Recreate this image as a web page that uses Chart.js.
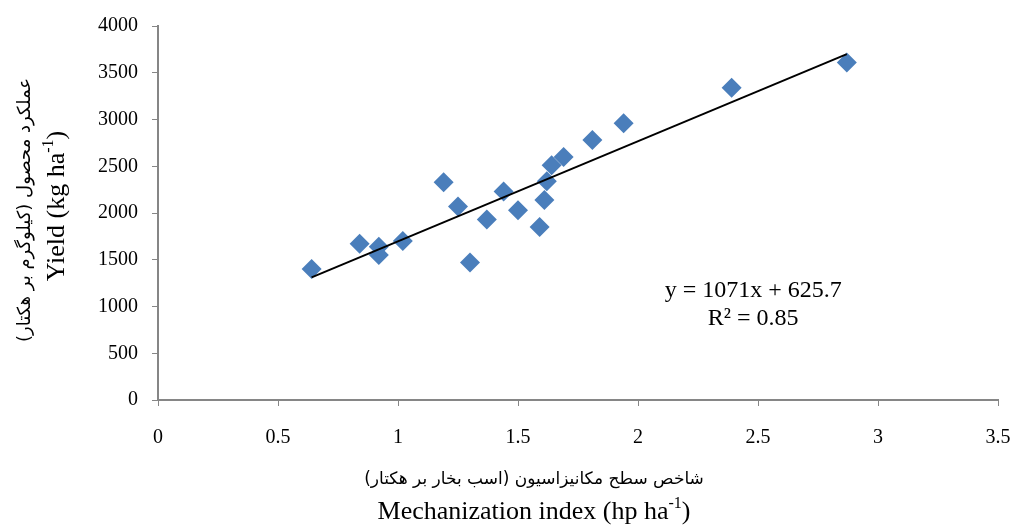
<!DOCTYPE html>
<html>
<head>
<meta charset="utf-8">
<script src="https://cdn.jsdelivr.net/npm/chart.js@4/dist/chart.umd.min.js"></script>
<style>
  html, body { margin: 0; padding: 0; background: #fff; }
</style>
</head>
<body>
<canvas id="grafica" width="1010" height="526"></canvas>
<script>
// datos
var mecanizacion = [0.64, 0.84, 0.92, 0.92, 1.02, 1.19, 1.25, 1.30, 1.37, 1.44, 1.50, 1.59, 1.61, 1.62, 1.64, 1.69, 1.81, 1.94, 2.39, 2.87];
var rendimiento = [1400, 1670, 1640, 1550, 1700, 2330, 2070, 1470, 1930, 2230, 2030, 1850, 2140, 2340, 2510, 2600, 2780, 2960, 3340, 3610];
var pendiente = 1071;
var intercepto = 625.7;
var ecuacion = ["y = 1071x + 625.7", "R\u00b2 = 0.85"];
var tituloX = ["شاخص سطح مکانیزاسیون (اسب بخار بر هکتار)", "Mechanization index (hp ha", "-1", ")"];
var tituloY = ["عملکرد محصول (کیلوگرم بر هکتار)", "Yield (kg ha", "-1", ")"];

var puntos = [];
for (var i in mecanizacion) {
    puntos.push({x: mecanizacion[i], y: rendimiento[i]});
}
var xmin = Math.min.apply(null, mecanizacion);
var xmax = Math.max.apply(null, mecanizacion);
var tendencia = [
    {x: xmin, y: pendiente * xmin + intercepto},
    {x: xmax, y: pendiente * xmax + intercepto}
];

var serif = "'Liberation Serif', 'Times New Roman', serif";
var persa = "'DejaVu Sans', 'Noto Sans', sans-serif";

// escribe texto con superindice, centrado en (0,0)
function textoSuper(ctx, base, sup, fin, size) {
    ctx.font = size + "px " + serif;
    var w1 = ctx.measureText(base).width;
    var w3 = ctx.measureText(fin).width;
    ctx.font = Math.round(size * 0.62) + "px " + serif;
    var w2 = ctx.measureText(sup).width;
    var x = -(w1 + w2 + w3) / 2;
    ctx.textAlign = "left";
    ctx.textBaseline = "middle";
    ctx.font = size + "px " + serif;
    ctx.fillText(base, x, 0);
    ctx.font = Math.round(size * 0.62) + "px " + serif;
    ctx.fillText(sup, x + w1, -size * 0.33);
    ctx.font = size + "px " + serif;
    ctx.fillText(fin, x + w1 + w2, 0);
}

var textos = {
    id: "textos",
    afterDraw: function(chart) {
        var ctx = chart.ctx;
        var sx = chart.scales.x, sy = chart.scales.y;
        ctx.save();
        ctx.fillStyle = "#000";

        // ecuacion de la recta
        ctx.textAlign = "center";
        ctx.textBaseline = "middle";
        ctx.font = "24px " + serif;
        var ex = sx.getPixelForValue(2.48);
        ctx.fillText(ecuacion[0], ex, sy.getPixelForValue(1167));
        ctx.fillText(ecuacion[1], ex, sy.getPixelForValue(870));

        // titulo eje x
        var cx = 534;
        ctx.font = "17px " + persa;
        ctx.direction = "rtl";
        ctx.fillText(tituloX[0], cx, 480);
        ctx.direction = "ltr";
        ctx.save();
        ctx.translate(cx, 512);
        textoSuper(ctx, tituloX[1], tituloX[2], tituloX[3], 26);
        ctx.restore();

        // titulo eje y
        ctx.save();
        ctx.translate(25, 210);
        ctx.rotate(-Math.PI / 2);
        ctx.textAlign = "center";
        ctx.textBaseline = "middle";
        ctx.font = "18px " + persa;
        ctx.direction = "rtl";
        ctx.fillText(tituloY[0], 0, 0);
        ctx.restore();
        ctx.save();
        ctx.translate(57, 206);
        ctx.rotate(-Math.PI / 2);
        textoSuper(ctx, tituloY[1], tituloY[2], tituloY[3], 26);
        ctx.restore();

        ctx.restore();
    }
};

var grafica = new Chart(document.getElementById("grafica"), {
    type: "scatter",
    data: {
        datasets: [
            {
                data: puntos,
                pointStyle: "rectRot",
                pointRadius: 10,
                pointHoverRadius: 10,
                backgroundColor: "#4a7ebb",
                borderColor: "#4a7ebb",
                borderWidth: 0,
                order: 2
            },
            {
                type: "line",
                data: tendencia,
                borderColor: "#000",
                borderWidth: 2,
                pointRadius: 0,
                fill: false,
                order: 1
            }
        ]
    },
    plugins: [textos],
    options: {
        responsive: false,
        devicePixelRatio: 1,
        animation: false,
        layout: { padding: { top: 23, right: 0, left: 0, bottom: 0 } },
        plugins: { legend: { display: false }, tooltip: { enabled: false } },
        scales: {
            x: {
                type: "linear",
                min: 0,
                max: 3.5,
                ticks: {
                    stepSize: 0.5, color: "#000", padding: 20, font: { family: serif, size: 20 },
                    callback: function(v) { return String(v); }
                },
                grid: { drawOnChartArea: false, tickLength: 6, color: "#868686", lineWidth: 1 },
                border: { color: "#868686", width: 2 },
                afterFit: function(scale) {
                    scale.height = 126;
                    scale.paddingRight = 12;
                    scale.paddingLeft = 0;
                }
            },
            y: {
                min: 0,
                max: 4000,
                ticks: {
                    stepSize: 500, color: "#000", padding: 14, font: { family: serif, size: 20 },
                    callback: function(v) { return String(v); }
                },
                grid: { drawOnChartArea: false, tickLength: 6, color: "#868686", lineWidth: 1 },
                border: { color: "#868686", width: 2 },
                afterFit: function(scale) { scale.width = 158; }
            }
        }
    }
});
</script>
</body>
</html>
